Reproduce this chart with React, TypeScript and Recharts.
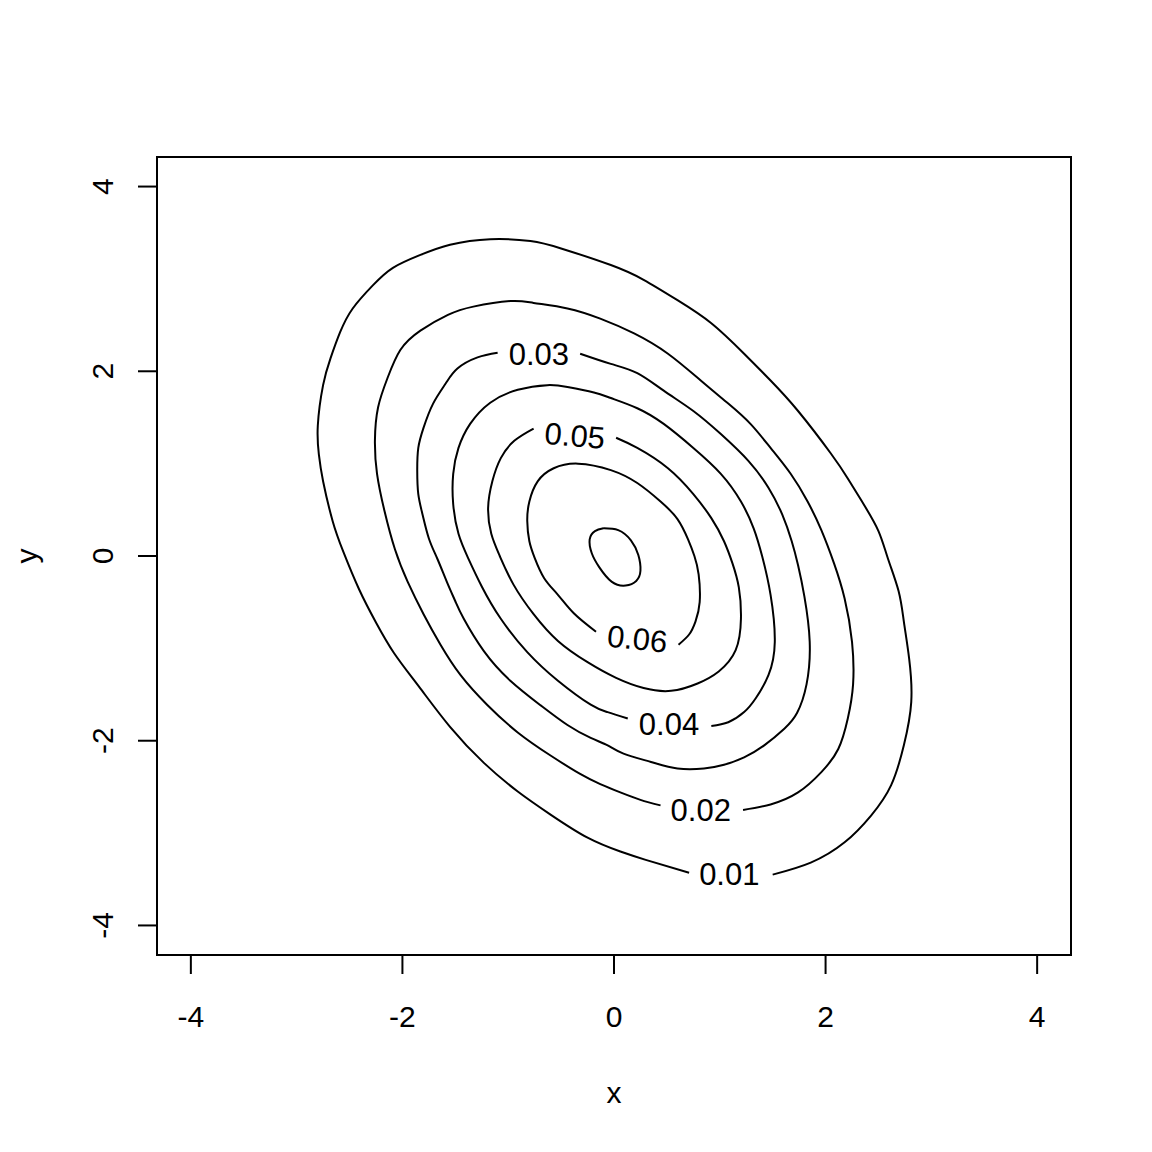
import React from 'react'
import {
  ScatterChart,
  Scatter,
  XAxis,
  YAxis,
  ReferenceArea,
} from 'recharts'

// contour lines (data units), each one open where its label sits
const level01 = [
  { x: 1.5, y: -3.45 }, { x: 1.86, y: -3.32 }, { x: 2.18, y: -3.1 }, { x: 2.43, y: -2.81 },
  { x: 2.62, y: -2.48 }, { x: 2.74, y: -2.05 }, { x: 2.81, y: -1.58 }, { x: 2.79, y: -1.11 },
  { x: 2.74, y: -0.71 }, { x: 2.69, y: -0.38 }, { x: 2.59, y: -0.03 }, { x: 2.5, y: 0.27 },
  { x: 2.36, y: 0.56 }, { x: 2.21, y: 0.84 }, { x: 2.05, y: 1.11 }, { x: 1.74, y: 1.57 },
  { x: 1.48, y: 1.9 }, { x: 1.23, y: 2.19 }, { x: 0.92, y: 2.52 }, { x: 0.6, y: 2.77 },
  { x: 0.28, y: 2.99 }, { x: -0.03, y: 3.15 }, { x: -0.5, y: 3.33 }, { x: -0.79, y: 3.41 },
  { x: -1.17, y: 3.43 }, { x: -1.55, y: 3.37 }, { x: -1.83, y: 3.26 }, { x: -2.09, y: 3.12 },
  { x: -2.28, y: 2.93 }, { x: -2.47, y: 2.68 }, { x: -2.59, y: 2.42 }, { x: -2.68, y: 2.14 },
  { x: -2.75, y: 1.85 }, { x: -2.8, y: 1.41 }, { x: -2.79, y: 1.1 }, { x: -2.75, y: 0.81 },
  { x: -2.66, y: 0.38 }, { x: -2.56, y: 0.05 }, { x: -2.41, y: -0.36 }, { x: -2.25, y: -0.72 },
  { x: -2.08, y: -1.05 }, { x: -1.84, y: -1.42 }, { x: -1.55, y: -1.85 }, { x: -1.23, y: -2.24 },
  { x: -0.91, y: -2.55 }, { x: -0.6, y: -2.8 }, { x: -0.25, y: -3.05 }, { x: 0.06, y: -3.2 },
  { x: 0.3, y: -3.29 }, { x: 0.71, y: -3.43 },
]

const level02 = [
  { x: 1.22, y: -2.75 }, { x: 1.48, y: -2.69 }, { x: 1.74, y: -2.56 }, { x: 1.96, y: -2.34 },
  { x: 2.12, y: -2.09 }, { x: 2.21, y: -1.76 }, { x: 2.26, y: -1.39 }, { x: 2.25, y: -0.93 },
  { x: 2.18, y: -0.46 }, { x: 2.08, y: -0.08 }, { x: 1.96, y: 0.28 }, { x: 1.83, y: 0.59 },
  { x: 1.67, y: 0.89 }, { x: 1.48, y: 1.17 }, { x: 1.29, y: 1.43 }, { x: 1.08, y: 1.65 },
  { x: 0.82, y: 1.9 }, { x: 0.51, y: 2.19 }, { x: 0.19, y: 2.41 }, { x: -0.13, y: 2.57 },
  { x: -0.44, y: 2.68 }, { x: -0.76, y: 2.74 }, { x: -0.98, y: 2.76 }, { x: -1.33, y: 2.7 },
  { x: -1.57, y: 2.61 }, { x: -1.83, y: 2.44 }, { x: -2.02, y: 2.23 }, { x: -2.14, y: 1.93 },
  { x: -2.23, y: 1.61 }, { x: -2.26, y: 1.25 }, { x: -2.24, y: 0.89 }, { x: -2.17, y: 0.49 },
  { x: -2.07, y: 0.07 }, { x: -1.95, y: -0.28 }, { x: -1.8, y: -0.63 }, { x: -1.64, y: -0.96 },
  { x: -1.45, y: -1.29 }, { x: -1.2, y: -1.61 }, { x: -0.91, y: -1.91 }, { x: -0.6, y: -2.16 },
  { x: -0.32, y: -2.36 }, { x: -0.13, y: -2.47 }, { x: 0.06, y: -2.56 }, { x: 0.25, y: -2.64 },
  { x: 0.44, y: -2.7 },
]

const level03 = [
  { x: -0.32, y: 2.19 }, { x: -0.03, y: 2.08 }, { x: 0.22, y: 1.98 }, { x: 0.47, y: 1.79 },
  { x: 0.75, y: 1.57 }, { x: 1.01, y: 1.32 }, { x: 1.27, y: 1.03 }, { x: 1.46, y: 0.74 },
  { x: 1.59, y: 0.45 }, { x: 1.68, y: 0.16 }, { x: 1.74, y: -0.1 }, { x: 1.8, y: -0.44 },
  { x: 1.85, y: -0.93 }, { x: 1.82, y: -1.39 }, { x: 1.73, y: -1.7 }, { x: 1.61, y: -1.87 },
  { x: 1.42, y: -2.05 }, { x: 1.23, y: -2.18 }, { x: 1.04, y: -2.26 }, { x: 0.85, y: -2.3 },
  { x: 0.6, y: -2.3 }, { x: 0.35, y: -2.23 }, { x: 0.09, y: -2.14 }, { x: -0.06, y: -2.05 },
  { x: -0.22, y: -1.97 }, { x: -0.44, y: -1.83 }, { x: -0.69, y: -1.62 }, { x: -0.98, y: -1.35 },
  { x: -1.23, y: -1.03 }, { x: -1.42, y: -0.68 }, { x: -1.5, y: -0.49 }, { x: -1.58, y: -0.28 },
  { x: -1.67, y: -0.03 }, { x: -1.75, y: 0.19 }, { x: -1.81, y: 0.45 }, { x: -1.85, y: 0.67 },
  { x: -1.86, y: 0.92 }, { x: -1.85, y: 1.17 }, { x: -1.8, y: 1.39 }, { x: -1.71, y: 1.65 },
  { x: -1.59, y: 1.87 }, { x: -1.48, y: 2.03 }, { x: -1.29, y: 2.15 }, { x: -1.1, y: 2.2 },
]

const level04 = [
  { x: 0.92, y: -1.84 }, { x: 1.08, y: -1.8 }, { x: 1.23, y: -1.69 }, { x: 1.34, y: -1.54 },
  { x: 1.46, y: -1.29 }, { x: 1.52, y: -0.93 }, { x: 1.48, y: -0.42 }, { x: 1.4, y: 0.0 },
  { x: 1.32, y: 0.3 }, { x: 1.2, y: 0.59 }, { x: 1.01, y: 0.89 }, { x: 0.75, y: 1.17 },
  { x: 0.47, y: 1.43 }, { x: 0.22, y: 1.6 }, { x: -0.03, y: 1.71 }, { x: -0.19, y: 1.77 },
  { x: -0.44, y: 1.83 }, { x: -0.63, y: 1.85 }, { x: -0.91, y: 1.8 }, { x: -1.17, y: 1.66 },
  { x: -1.36, y: 1.43 }, { x: -1.47, y: 1.17 }, { x: -1.52, y: 0.89 }, { x: -1.52, y: 0.56 },
  { x: -1.47, y: 0.24 }, { x: -1.38, y: -0.02 }, { x: -1.25, y: -0.33 }, { x: -1.07, y: -0.68 },
  { x: -0.82, y: -1.04 }, { x: -0.53, y: -1.35 }, { x: -0.22, y: -1.61 }, { x: -0.06, y: -1.69 },
  { x: 0.13, y: -1.76 },
]

const level05 = [
  { x: 0.02, y: 1.28 }, { x: 0.22, y: 1.17 }, { x: 0.51, y: 0.95 }, { x: 0.75, y: 0.67 },
  { x: 0.92, y: 0.41 }, { x: 1.04, y: 0.16 }, { x: 1.12, y: -0.08 }, { x: 1.18, y: -0.34 },
  { x: 1.2, y: -0.68 }, { x: 1.15, y: -1.02 }, { x: 0.99, y: -1.25 }, { x: 0.79, y: -1.38 },
  { x: 0.54, y: -1.46 }, { x: 0.28, y: -1.43 }, { x: 0.02, y: -1.32 }, { x: -0.25, y: -1.15 },
  { x: -0.53, y: -0.92 }, { x: -0.76, y: -0.63 }, { x: -0.95, y: -0.31 }, { x: -1.08, y: 0.0 },
  { x: -1.16, y: 0.24 }, { x: -1.19, y: 0.52 }, { x: -1.15, y: 0.81 }, { x: -1.07, y: 1.06 },
  { x: -0.94, y: 1.25 }, { x: -0.76, y: 1.38 },
]

const level06 = [
  { x: 0.61, y: -0.96 }, { x: 0.71, y: -0.85 }, { x: 0.77, y: -0.71 }, { x: 0.81, y: -0.5 },
  { x: 0.8, y: -0.2 }, { x: 0.76, y: 0.0 }, { x: 0.7, y: 0.18 }, { x: 0.6, y: 0.4 },
  { x: 0.44, y: 0.59 }, { x: 0.22, y: 0.79 }, { x: -0.03, y: 0.93 }, { x: -0.34, y: 1.0 },
  { x: -0.57, y: 0.95 }, { x: -0.72, y: 0.81 }, { x: -0.8, y: 0.59 }, { x: -0.82, y: 0.38 },
  { x: -0.8, y: 0.16 }, { x: -0.75, y: -0.02 }, { x: -0.66, y: -0.24 }, { x: -0.53, y: -0.42 },
  { x: -0.38, y: -0.62 }, { x: -0.17, y: -0.82 },
]

// smallest ring, closed, no label
const level07 = [
  { x: -0.1, y: 0.3 }, { x: 0.04, y: 0.28 }, { x: 0.16, y: 0.17 }, { x: 0.23, y: 0.01 },
  { x: 0.25, y: -0.16 }, { x: 0.21, y: -0.27 }, { x: 0.11, y: -0.32 }, { x: -0.02, y: -0.28 },
  { x: -0.14, y: -0.12 }, { x: -0.21, y: 0.03 }, { x: -0.23, y: 0.18 }, { x: -0.18, y: 0.27 },
  { x: -0.1, y: 0.3 },
]

const contourLines = [level01, level02, level03, level04, level05, level06, level07]

const contourLabels = [
  { x: -0.71, y: 2.18, text: '0.03' },
  { x: -0.37, y: 1.3, text: '0.05' },
  { x: 0.22, y: -0.9, text: '0.06' },
  { x: 0.52, y: -1.82, text: '0.04' },
  { x: 0.82, y: -2.76, text: '0.02' },
  { x: 1.09, y: -3.45, text: '0.01' },
]
const labelTilt: Record<string, number> = { '0.05': 5, '0.06': 6 }

const axisTicks = [-4, -2, 0, 2, 4]
const lim = 4.32

const font = '"Liberation Sans", Arial, sans-serif'

const XTick = (props: any) => {
  const { x, y, payload } = props
  return (
    <text x={x} y={y + 51} textAnchor="middle" fontSize={30} fontFamily={font} fill="#000">
      {payload.value}
    </text>
  )
}

const YTick = (props: any) => {
  const { x, y, payload } = props
  const tx = x - 23
  return (
    <text x={tx} y={y} transform={`rotate(-90, ${tx}, ${y})`} textAnchor="middle" fontSize={30} fontFamily={font} fill="#000">
      {payload.value}
    </text>
  )
}

const XTitle = (props: any) => {
  const vb = props.viewBox || { x: 157, y: 955, width: 914, height: 197 }
  return (
    <text x={vb.x + vb.width / 2} y={vb.y + 148} textAnchor="middle" fontSize={30} fontFamily={font} fill="#000">
      x
    </text>
  )
}

const YTitle = (props: any) => {
  const vb = props.viewBox || { x: 0, y: 157, width: 157, height: 798 }
  const cx = vb.x + 37
  const cy = vb.y + vb.height / 2
  return (
    <text x={cx} y={cy} transform={`rotate(-90, ${cx}, ${cy})`} textAnchor="middle" fontSize={30} fontFamily={font} fill="#000">
      y
    </text>
  )
}

const LevelLabel = (props: any) => {
  const { cx, cy, payload } = props
  const tilt = labelTilt[payload.text] || 0
  return (
    <text
      x={cx}
      y={cy}
      transform={`rotate(${tilt}, ${cx}, ${cy})`}
      textAnchor="middle"
      dominantBaseline="central"
      fontSize={31}
      fontFamily={font}
      fill="#000"
    >
      {payload.text}
    </text>
  )
}

export default function App() {
  return (
    <div style={{ position: 'absolute', left: 0, top: 0, width: 1152, height: 1152, background: '#fff' }}>
      <ScatterChart width={1152} height={1152} margin={{ top: 157, right: 81, bottom: 0, left: 0 }}>
        <XAxis
          type="number"
          dataKey="x"
          domain={[-lim, lim]}
          ticks={axisTicks}
          allowDataOverflow
          height={197}
          tickSize={19}
          axisLine={false}
          tickLine={{ stroke: '#000', strokeWidth: 2 }}
          tick={<XTick />}
          label={{ content: <XTitle /> }}
        />
        <YAxis
          type="number"
          dataKey="y"
          domain={[-lim, lim]}
          ticks={axisTicks}
          allowDataOverflow
          width={157}
          tickSize={19}
          axisLine={false}
          tickLine={{ stroke: '#000', strokeWidth: 2 }}
          tick={<YTick />}
          label={{ content: <YTitle /> }}
        />
        <ReferenceArea x1={-lim} x2={lim} y1={-lim} y2={lim} fill="none" fillOpacity={0} stroke="#000" strokeWidth={2} strokeOpacity={1} />
        {contourLines.map((pts, i) => (
          <Scatter
            key={i}
            data={pts}
            line={{ stroke: '#000', strokeWidth: 2 }}
            lineType="joint"
            lineJointType="natural"
            shape={() => <g />}
            isAnimationActive={false}
          />
        ))}
        <Scatter data={contourLabels} shape={<LevelLabel />} isAnimationActive={false} />
      </ScatterChart>
    </div>
  )
}
